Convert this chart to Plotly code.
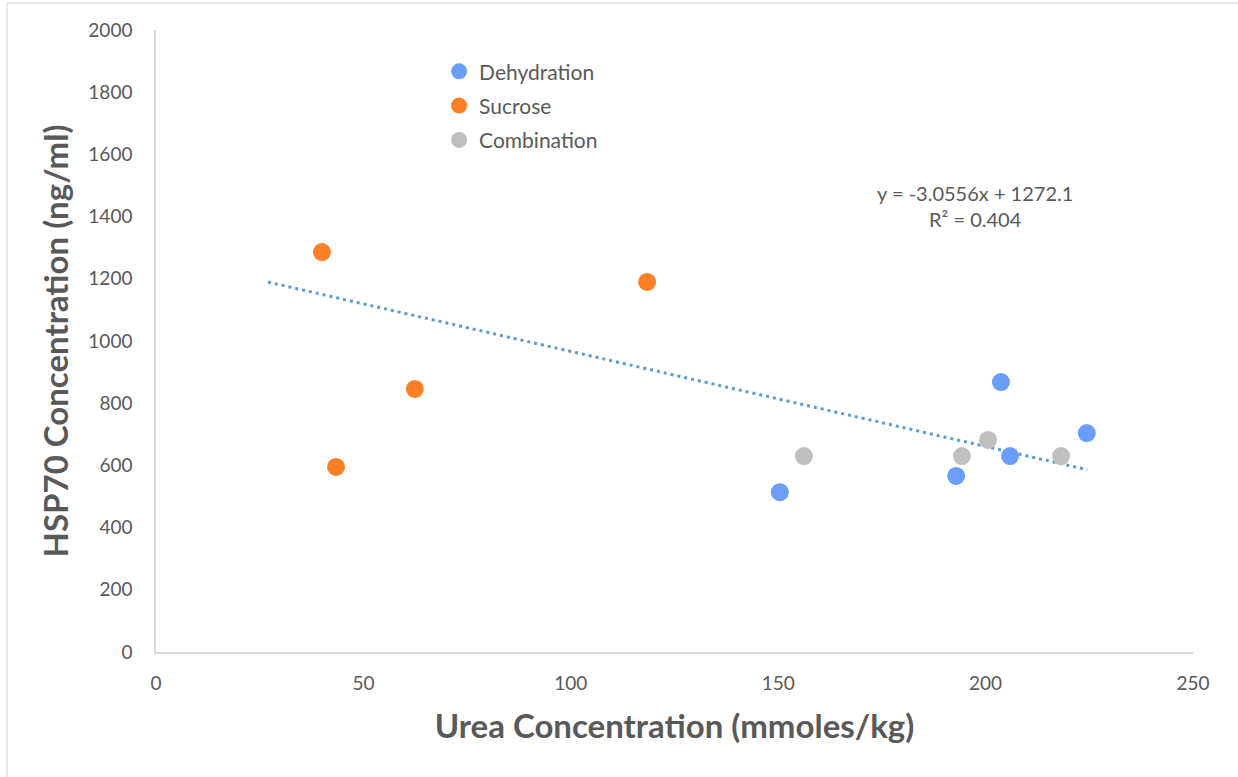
import plotly.graph_objects as go

# Data
dehydration_x = [150.4, 192.9, 203.7, 205.9, 224.4]
dehydration_y = [514, 566, 868, 630, 704]
sucrose_x = [40.0, 43.4, 62.4, 118.4]
sucrose_y = [1286, 595, 846, 1190]
combination_x = [156.2, 194.3, 200.6, 218.2]
combination_y = [630, 630, 682, 630]

trend_slope = -3.0556
trend_intercept = 1272.1
trend_r2 = 0.404
trend_x = [27, 224.5]
trend_y = [trend_slope * x + trend_intercept for x in trend_x]

x_ticks = [0, 50, 100, 150, 200, 250]
y_ticks = [0, 200, 400, 600, 800, 1000, 1200, 1400, 1600, 1800, 2000]

FONT = "Lato, Open Sans, sans-serif"
GREY = "#595959"

fig = go.Figure()
fig.add_trace(go.Scatter(x=trend_x, y=trend_y, mode="lines",
                         line=dict(color="#5B9BD5", width=3, dash="3px,4px"),
                         showlegend=False, hoverinfo="skip"))
fig.add_trace(go.Scatter(x=dehydration_x, y=dehydration_y, mode="markers", name="Dehydration",
                         legendgroup="a", marker=dict(color="#6B9EFA", size=18)))
fig.add_trace(go.Scatter(x=sucrose_x, y=sucrose_y, mode="markers", name="Sucrose",
                         legendgroup="b", marker=dict(color="#FD7F26", size=18)))
fig.add_trace(go.Scatter(x=combination_x, y=combination_y, mode="markers", name="Combination",
                         legendgroup="c", marker=dict(color="#BFBFBF", size=18)))

fig.add_annotation(
    x=(975 - 156) / 1037, y=(652 - 206) / 622, xref="paper", yref="paper",
    xanchor="center", yanchor="middle",
    text=f"y = {trend_slope}x + {trend_intercept}<br>R² = {trend_r2}",
    showarrow=False, align="center",
    font=dict(family=FONT, size=20, color=GREY),
)

fig.update_layout(
    width=1238, height=777,
    margin=dict(l=156, r=45, t=30, b=125),
    paper_bgcolor="white", plot_bgcolor="white",
    showlegend=True,
    legend=dict(x=0.273, y=0.966, xanchor="left", yanchor="top",
                font=dict(family=FONT, size=21, color=GREY),
                tracegroupgap=4, bgcolor="rgba(0,0,0,0)", itemsizing="trace"),
    xaxis=dict(range=[0, 250], tickvals=x_ticks, showgrid=False, zeroline=False,
               showline=True, linecolor="#D9D9D9", linewidth=1.5, ticks="",
               ticklabelstandoff=13,
               tickfont=dict(family=FONT, size=19, color=GREY),
               title=dict(text="<b>Urea Concentration (mmoles/kg)</b>", standoff=22,
                          font=dict(family=FONT, size=33, color=GREY))),
    yaxis=dict(range=[0, 2000], tickvals=y_ticks, showgrid=False, zeroline=False,
               showline=True, linecolor="#D9D9D9", linewidth=1.5, ticks="",
               ticklabelstandoff=18,
               tickfont=dict(family=FONT, size=19, color=GREY),
               title=dict(text="<b>HSP70 Concentration (ng/ml)</b>", standoff=10,
                          font=dict(family=FONT, size=33, color=GREY))),
    shapes=[
        dict(type="line", xref="paper", yref="paper", x0=(7 - 156) / 1037, x1=(1238 - 156) / 1037,
             y0=(652 - 3) / 622, y1=(652 - 3) / 622, line=dict(color="#E0E0E0", width=1.5)),
        dict(type="line", xref="paper", yref="paper", x0=(7 - 156) / 1037, x1=(7 - 156) / 1037,
             y0=(652 - 3) / 622, y1=(652 - 777) / 622, line=dict(color="#E0E0E0", width=1.5)),
    ],
)

fig.write_html("out.html", config={"displayModeBar": False},
               post_script="document.body.style.margin='0';")
